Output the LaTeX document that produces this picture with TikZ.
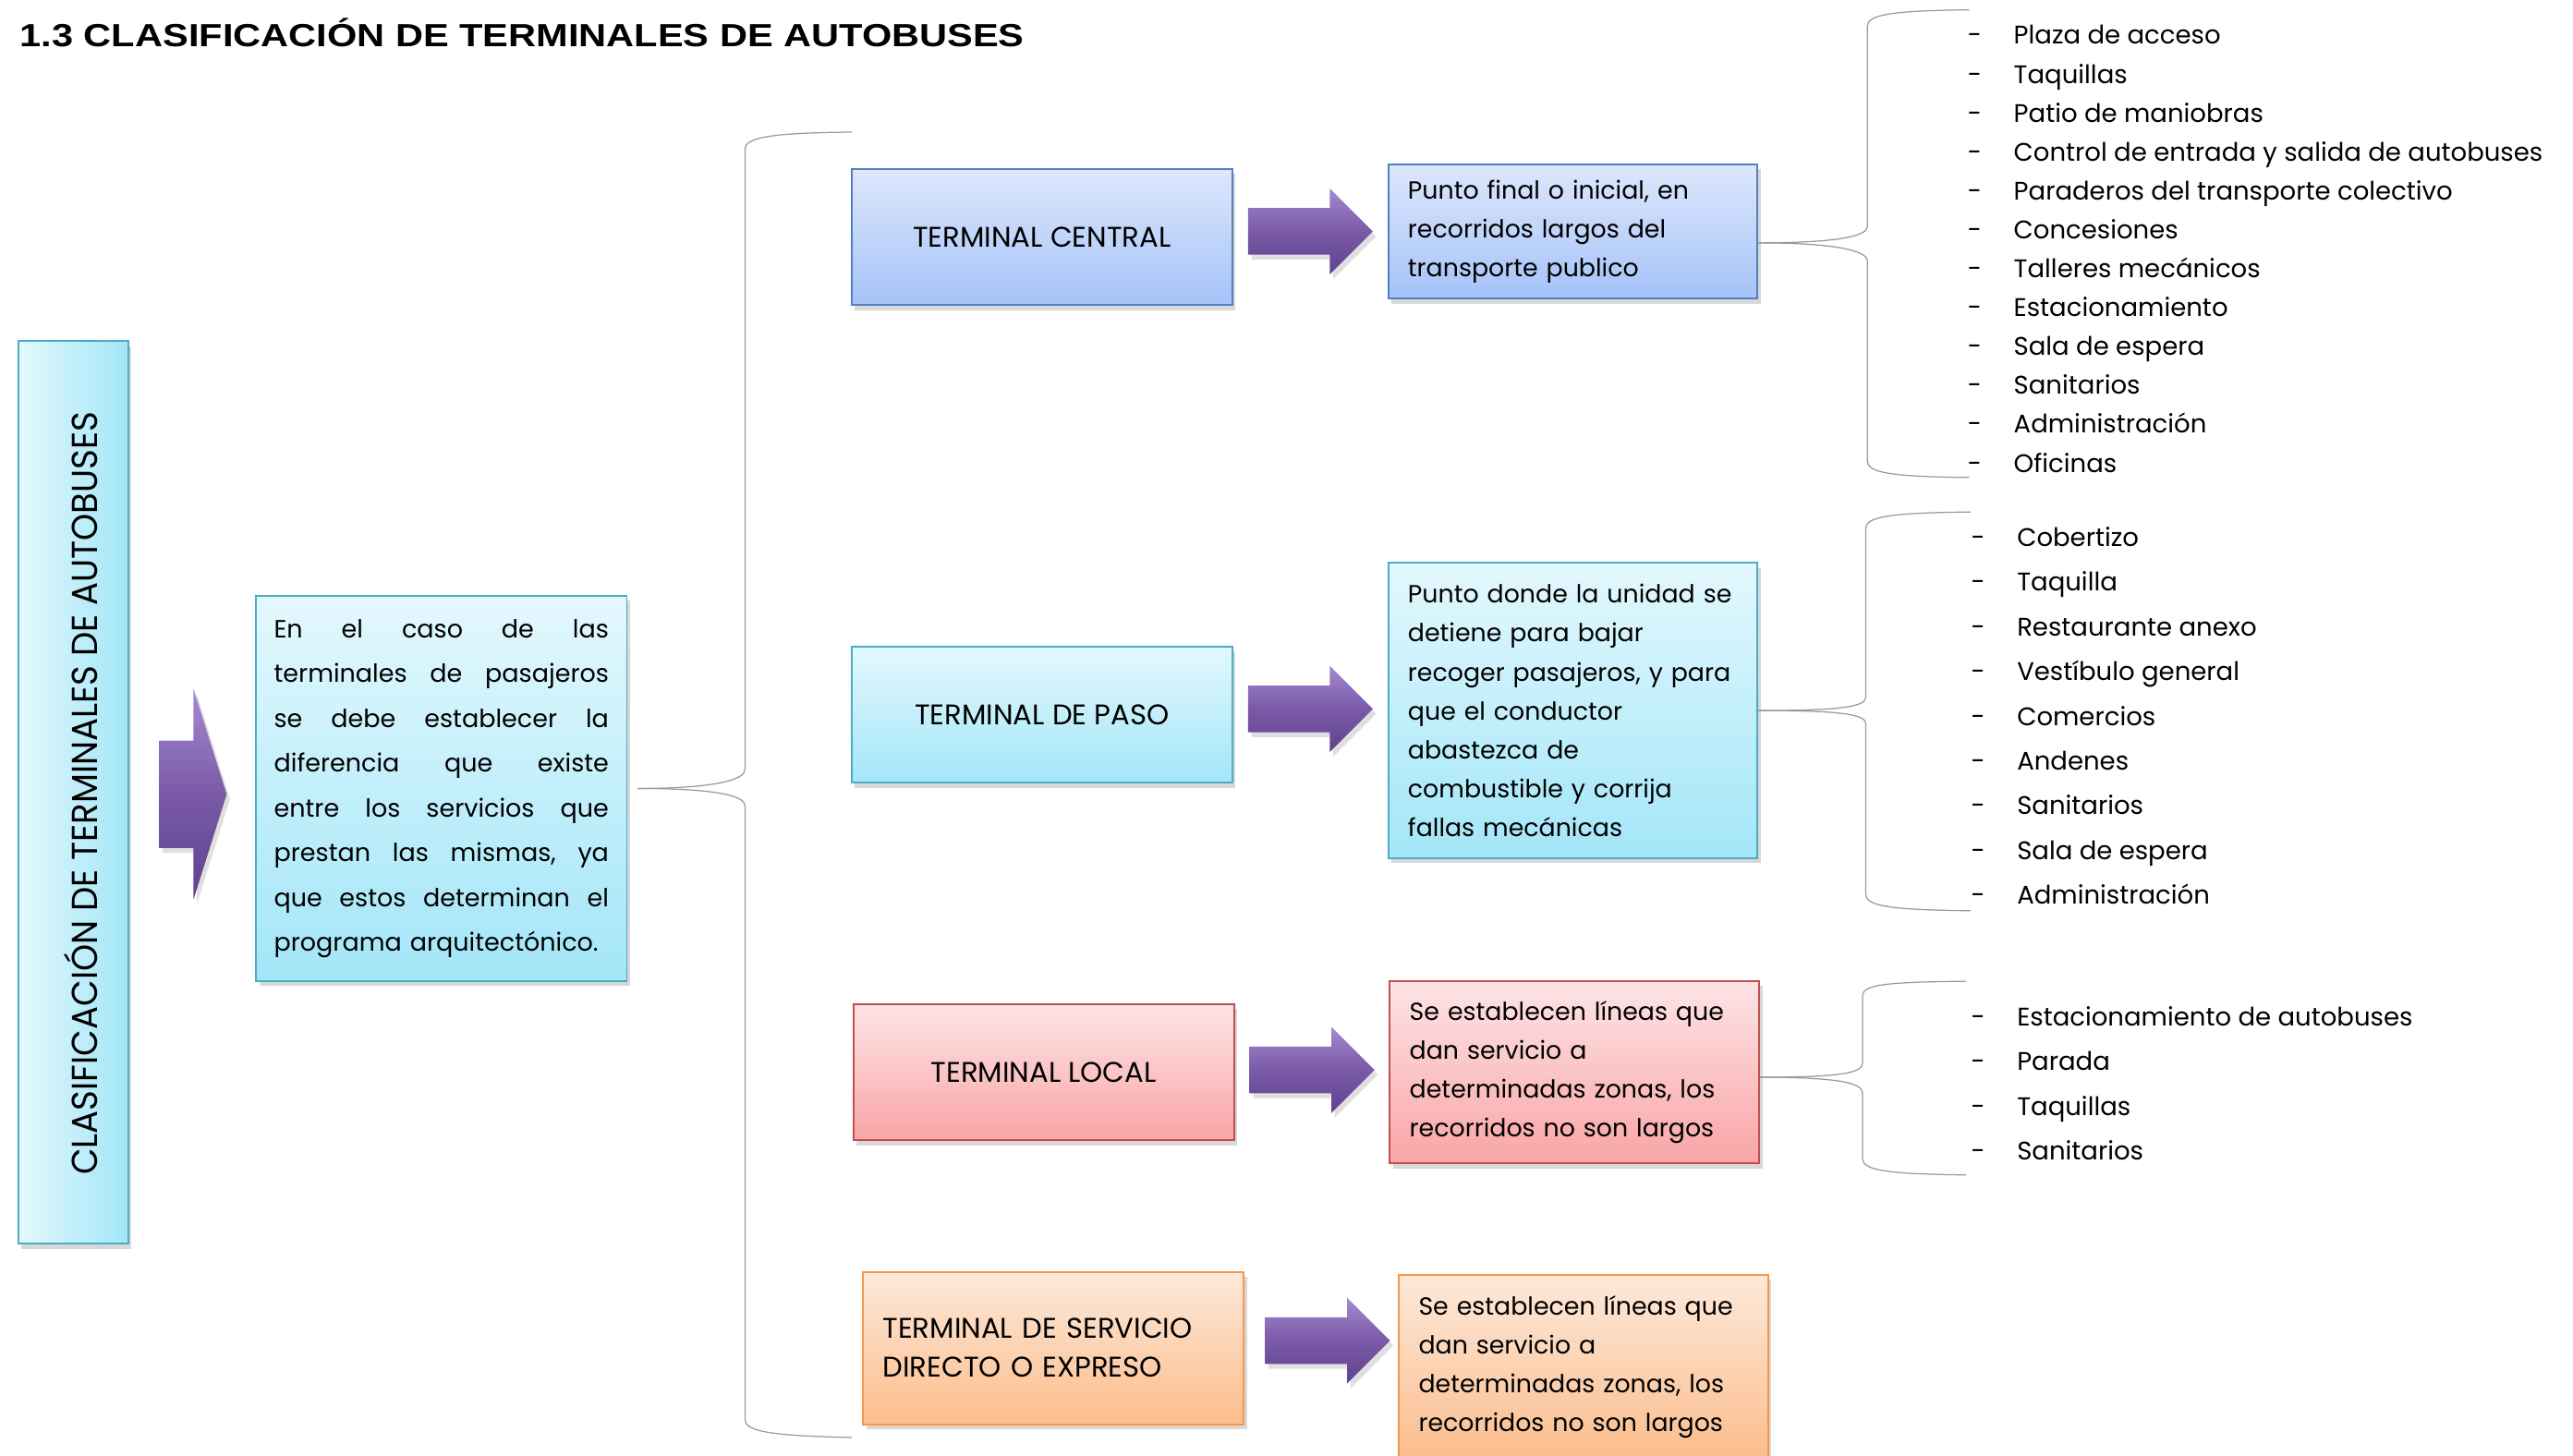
\documentclass[tikz,border=0pt]{standalone}
\usepackage{fontspec}
\setmainfont{Poppins}
\newfontfamily\titulofont{Liberation Sans}[FakeStretch=1.2]
\newfontfamily\estrecha{Poppins}[FakeStretch=0.95]
\usetikzlibrary{shapes.arrows,shadows}

\definecolor{azulborde}{HTML}{4F81BD}
\definecolor{azularriba}{HTML}{DDE7FC}
\definecolor{azulabajo}{HTML}{A5C3F8}
\definecolor{cianborde}{HTML}{4BACC6}
\definecolor{cianarriba}{HTML}{E3F8FD}
\definecolor{cianabajo}{HTML}{A3E6F8}
\definecolor{rojoborde}{HTML}{C0504D}
\definecolor{rojoarriba}{HTML}{FDE4E6}
\definecolor{rojoabajo}{HTML}{F9A5A6}
\definecolor{naranjaborde}{HTML}{F79646}
\definecolor{naranjaarriba}{HTML}{FDE9DA}
\definecolor{naranjaabajo}{HTML}{FBBD8C}
\definecolor{moradoclaro}{HTML}{A68AD2}
\definecolor{morado}{HTML}{7A5AA6}
\definecolor{moradooscuro}{HTML}{5E4290}
\definecolor{llavegris}{HTML}{9A9A9A}

\tikzstyle{caja}=[rectangle, line width=1.1pt, inner sep=0pt, drop shadow={shadow xshift=2pt, shadow yshift=-3pt, opacity=0.3}, font=\fontsize{15.1}{23.7}\selectfont]
\tikzstyle{azul}=[caja, draw=azulborde, top color=azularriba, bottom color=azulabajo]
\tikzstyle{cian}=[caja, draw=cianborde, top color=cianarriba, bottom color=cianabajo]
\tikzstyle{rojo}=[caja, draw=rojoborde, top color=rojoarriba, bottom color=rojoabajo]
\tikzstyle{naranja}=[caja, draw=naranjaborde, top color=naranjaarriba, bottom color=naranjaabajo]
\tikzstyle{terminal}=[minimum width=232pt, minimum height=83pt, font=\fontsize{17.3}{23.7}\selectfont]
\tikzstyle{texto}=[text width=201pt, inner xsep=12pt, align=left, minimum width=225pt]
\tikzstyle{flecha}=[single arrow, inner sep=0pt, inner ysep=14pt, single arrow tip angle=90, single arrow head extend=12pt, minimum height=76pt, top color=moradoclaro, bottom color=moradooscuro, middle color=morado, drop shadow={shadow xshift=2pt, shadow yshift=-3pt, opacity=0.25}]
\tikzstyle{llave}=[draw=llavegris, line width=0.7pt]
\tikzstyle{item}=[anchor=base west, inner sep=0pt, font=\fontsize{15.5}{19}\selectfont]
\newcommand{\guion}{\makebox[28pt][l]{-}}

\begin{document}
\begin{tikzpicture}[x=1pt, y=-1pt]
	\useasboundingbox[fill=white] (0,0) rectangle (1568,887);

	\node[anchor=base west, inner sep=0pt, font=\titulofont\bfseries\fontsize{19.5}{20}\selectfont] (titulo) at (12,28.5) {1.3 CLASIFICACIÓN DE TERMINALES DE AUTOBUSES};

	% columna izquierda
	\node[caja, draw=cianborde, left color=cianarriba, right color=cianabajo, minimum width=67pt, minimum height=550pt] (lateral) at (44.5,483) {};
	\node[rotate=90, font=\estrecha\fontsize{22}{22}\selectfont] (textolateral) at (49,483.5) {CLASIFICACIÓN DE TERMINALES DE AUTOBUSES};

	\node[flecha, minimum height=41pt, inner ysep=32.5pt, single arrow head extend=31.5pt, single arrow tip angle=145] (f0) at (112.5,484) {};

	\node[cian, text width=204pt, inner xsep=11pt, align=left, minimum height=235pt, font=\fontsize{15.2}{27.3}\selectfont] (desc) at (269,480.5) {%
		\makebox[204pt]{En\hfill el\hfill caso\hfill de\hfill las}\\
		\makebox[204pt]{terminales\hfill de\hfill pasajeros}\\
		\makebox[204pt]{se\hfill debe\hfill establecer\hfill la}\\
		\makebox[204pt]{diferencia\hfill que\hfill existe}\\
		\makebox[204pt]{entre\hfill los\hfill servicios\hfill que}\\
		\makebox[204pt]{prestan\hfill las\hfill mismas,\hfill ya}\\
		\makebox[204pt]{que\hfill estos\hfill determinan\hfill el}\\
		\mbox{programa arquitectónico.}};

	% tipos de terminal
	\node[azul, terminal] (central) at (635,144.5) {TERMINAL CENTRAL};
	\node[cian, terminal] (paso) at (635,435.5) {TERMINAL DE PASO};
	\node[rojo, terminal] (local) at (636,653.5) {TERMINAL LOCAL};
	\node[naranja, terminal, minimum height=93pt, text width=208pt, inner xsep=12pt, align=left] (servicio) at (642,821.5) {TERMINAL DE SERVICIO\\DIRECTO O EXPRESO};

	\node[flecha] (f1) at (791.5,141) {};
	\node[flecha] (f2) at (791.5,432) {};
	\node[flecha] (f3) at (792.5,652) {};
	\node[flecha] (f4) at (802,817) {};

	\node[azul, texto, minimum height=82pt] (d1) at (958.5,141) {Punto final o inicial, en\\recorridos largos del\\transporte publico};
	\node[cian, texto, minimum height=180pt] (d2) at (958.5,433) {Punto donde la unidad se\\detiene para bajar\\recoger pasajeros, y para\\que el conductor\\abastezca de\\combustible y corrija\\fallas mecánicas};
	\node[rojo, texto, minimum height=111pt] (d3) at (959.5,653.5) {Se establecen líneas que\\dan servicio a\\determinadas zonas, los\\recorridos no son largos};
	\node[naranja, texto, minimum height=112pt] (d4) at (965,833) {Se establecen líneas que\\dan servicio a\\determinadas zonas, los\\recorridos no son largos};

	% llaves
	\coordinate (ll0a) at (519,80.5);
	\coordinate (ll0b) at (519,876);
	\draw[llave] ([xshift=6pt]desc.east) .. controls +(48,0) and (454,475) .. (454,469) -- (454,91) .. controls (454,84) and (468,81) .. (ll0a);
	\draw[llave] ([xshift=6pt]desc.east) .. controls +(48,0) and (454,485) .. (454,491) -- (454,865) .. controls (454,872) and (468,875) .. (ll0b);

	\coordinate (ll1a) at (1200,6);
	\coordinate (ll1b) at (1200,291);
	\draw[llave] ([yshift=-7pt]d1.east) .. controls +(48,0) and (1138,144) .. (1138,138) -- (1138,16) .. controls (1138,9) and (1152,6.5) .. (ll1a);
	\draw[llave] ([yshift=-7pt]d1.east) .. controls +(48,0) and (1138,153) .. (1138,159) -- (1138,281) .. controls (1138,288) and (1152,290.5) .. (ll1b);

	\coordinate (ll2a) at (1201,312);
	\coordinate (ll2b) at (1201,555);
	\draw[llave] (d2.east) .. controls +(48,0) and (1137,431) .. (1137,425) -- (1137,322) .. controls (1137,315) and (1151,312.5) .. (ll2a);
	\draw[llave] (d2.east) .. controls +(48,0) and (1137,435) .. (1137,441) -- (1137,545) .. controls (1137,552) and (1151,554.5) .. (ll2b);

	\coordinate (ll3a) at (1198,598);
	\coordinate (ll3b) at (1198,716);
	\draw[llave] ([yshift=-3pt]d3.east) .. controls +(48,0) and (1135,654) .. (1135,648) -- (1135,607) .. controls (1135,600) and (1149,598.5) .. (ll3a);
	\draw[llave] ([yshift=-3pt]d3.east) .. controls +(48,0) and (1135,660) .. (1135,666) -- (1135,706) .. controls (1135,713) and (1149,715.5) .. (ll3b);

	% listas
	\foreach \t [count=\i from 0] in {Plaza de acceso, Taquillas, Patio de maniobras, Control de entrada y salida de autobuses, Paraderos del transporte colectivo, Concesiones, Talleres mecánicos, Estacionamiento, Sala de espera, Sanitarios, Administración, Oficinas}
		\node[item] (ca\i) at (1199,27+23.7*\i) {\guion\t};

	\foreach \t [count=\i from 0] in {Cobertizo, Taquilla, Restaurante anexo, Vestíbulo general, Comercios, Andenes, Sanitarios, Sala de espera, Administración}
		\node[item] (pa\i) at (1201,333+27.25*\i) {\guion\t};

	\foreach \t [count=\i from 0] in {Estacionamiento de autobuses, Parada, Taquillas, Sanitarios}
		\node[item] (lo\i) at (1201,625+27.3*\i) {\guion\t};
\end{tikzpicture}
\end{document}
